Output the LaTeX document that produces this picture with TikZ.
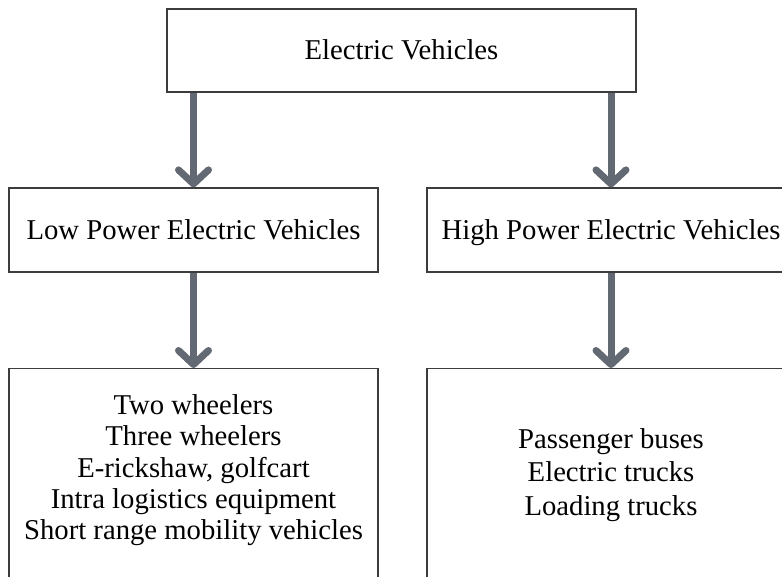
\documentclass[tikz,border=0pt]{standalone}
\usepackage{fontspec}
\setmainfont{Liberation Serif}
\usepackage{tikz}
\usetikzlibrary{arrows.meta,positioning}
\usepackage{xcolor}
\definecolor{evgray}{RGB}{98,105,114}
\definecolor{evline}{RGB}{60,60,60}
\tikzstyle{catbox} = [draw=evline,line width=1.2pt,inner sep=0pt,minimum height=84pt,text height=22pt,text depth=4pt,font=\fontsize{28.7}{31.3}\selectfont]
\tikzstyle{framebox} = [draw=evline,line width=1.2pt,inner sep=0pt,minimum height=240pt,anchor=north]
\tikzstyle{listtext} = [align=center,inner sep=0pt,font=\fontsize{28.7}{31.3}\selectfont]
\tikzstyle{arrow} = [line width=7pt,color=evgray,-{Straight Barb[length=14pt,width=30pt,line cap=round,line join=round]}]

\begin{document}
\begin{tikzpicture}[x=1pt,y=-1pt]
\path[use as bounding box,clip] (0,0) rectangle (782,576);

% Boxes
\node[catbox, minimum width=469pt, minimum height=83pt] (ev) at (401.5,50.5) {Electric Vehicles};
\node[catbox, minimum width=369pt] (low) at (193.5,230) {Low Power Electric Vehicles};
\node[catbox, minimum width=368pt] (high) at (611,230) {High Power Electric Vehicles};
\node[framebox, minimum width=369pt] (lowbox) at (193.5,368) {};
\node[framebox, minimum width=368pt] (highbox) at (611,368) {};

% Lists
\node[listtext] (lowlist) at (193.5,470.3) {Two wheelers\\Three wheelers\\E-rickshaw, golfcart\\Intra logistics equipment\\Short range mobility vehicles};
\node[listtext, font=\fontsize{28.7}{33.5}\selectfont] (highlist) at (611,474.8) {Passenger buses\\Electric trucks\\Loading trucks};

% Arrows
\draw[arrow] (ev.south -| low.north) -- (low.north);
\draw[arrow] (ev.south -| high.north) -- (high.north);
\draw[arrow] (low.south) -- (lowbox.north);
\draw[arrow] (high.south) -- (highbox.north);
\end{tikzpicture}
\end{document}
